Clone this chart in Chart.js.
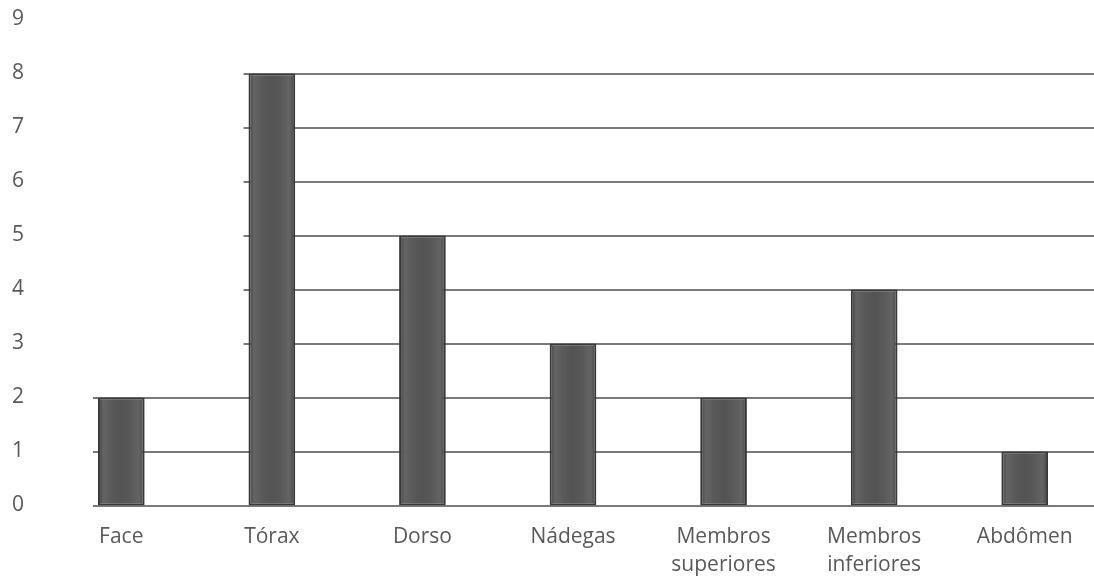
<!DOCTYPE html>
<html>
<head>
<meta charset="utf-8">
<script src="https://cdn.jsdelivr.net/npm/chart.js@4"></script>
<style>
  html, body { margin: 0; padding: 0; background: #fff; }
  #wrap { width: 1094px; height: 576px; overflow: hidden; position: relative; }
  canvas { display: block; }
</style>
</head>
<body>
<div id="wrap"><canvas id="c" width="1100" height="576"></canvas></div>
<script>
// --- Data ---
const regions = ['Face', 'Tórax', 'Dorso', 'Nádegas', ['Membros', 'superiores'], ['Membros', 'inferiores'], 'Abdômen'];
const counts = [2, 8, 5, 3, 2, 4, 1];
const yTicks = [0, 1, 2, 3, 4, 5, 6, 7, 8, 9];

const textColor = '#595959';
const fontFamily = '"Open Sans", "Liberation Sans", sans-serif';
const barPct = 0.31;

// Horizontal shading for each bar, darker at the edges
function barFill(ctx) {
  const xs = ctx.chart.scales && ctx.chart.scales.x;
  if (!xs || ctx.dataIndex === undefined) return '#555555';
  const cx = xs.getPixelForValue(ctx.dataIndex);
  const half = (xs.width / regions.length) * barPct / 2;
  if (!Number.isFinite(cx) || !Number.isFinite(half) || half <= 0) return '#555555';
  const g = ctx.chart.ctx.createLinearGradient(cx - half, 0, cx + half, 0);
  g.addColorStop(0, '#454545');
  g.addColorStop(0.12, '#646464');
  g.addColorStop(0.3, '#595959');
  g.addColorStop(0.5, '#535353');
  g.addColorStop(0.7, '#595959');
  g.addColorStop(0.88, '#646464');
  g.addColorStop(1, '#454545');
  return g;
}

// Gridlines: each level starts at the first bar that reaches it
const levelLines = {
  id: 'levelLines',
  beforeDatasetsDraw(chart) {
    const { ctx, chartArea, scales } = chart;
    const bars = chart.getDatasetMeta(0).data;
    ctx.save();
    ctx.strokeStyle = '#7a7a7a';
    ctx.lineWidth = 2;
    yTicks.forEach(v => {
      const idx = counts.findIndex(c => c >= v);
      if (idx < 0) return;
      const bar = bars[idx];
      const x0 = bar.x - bar.width / 2 - 5;
      const y = Math.round(scales.y.getPixelForValue(v));
      ctx.beginPath();
      ctx.moveTo(x0, y);
      ctx.lineTo(chartArea.right, y);
      ctx.stroke();
    });
    ctx.restore();
  }
};

// Soft halo round the bars
const barHalo = {
  id: 'barHalo',
  beforeDatasetDraw(chart) {
    const ctx = chart.ctx;
    ctx.save();
    ctx.shadowColor = 'rgba(0,0,0,0.15)';
    ctx.shadowBlur = 12;
  },
  afterDatasetDraw(chart) {
    chart.ctx.restore();
  }
};

new Chart(document.getElementById('c'), {
  type: 'bar',
  data: {
    labels: regions,
    datasets: [{
      data: counts,
      backgroundColor: barFill,
      borderColor: '#3c3c3c',
      borderWidth: 2,
      borderSkipped: false,
      categoryPercentage: 1,
      barPercentage: barPct
    }]
  },
  options: {
    responsive: false,
    animation: false,
    layout: { padding: { top: 19.5, right: 0, bottom: 0, left: 0 } },
    plugins: { legend: { display: false }, tooltip: { enabled: false } },
    scales: {
      x: {
        grid: { display: false, drawTicks: false },
        border: { display: false },
        ticks: {
          color: textColor,
          padding: 17,
          maxRotation: 0,
          autoSkip: false,
          font: { family: fontFamily, size: 21, lineHeight: 1.36 }
        },
        afterFit(scale) { scale.height = 70.5; }
      },
      y: {
        min: 0,
        max: 9,
        grid: { display: false, drawTicks: false },
        border: { display: false },
        ticks: {
          stepSize: 1,
          color: textColor,
          padding: 22,
          font: { family: fontFamily, size: 21 }
        },
        afterFit(scale) {
          scale.width = 46;
          scale.paddingTop = 0;
          scale.paddingBottom = 0;
        }
      }
    }
  },
  plugins: [levelLines, barHalo]
});
</script>
</body>
</html>
